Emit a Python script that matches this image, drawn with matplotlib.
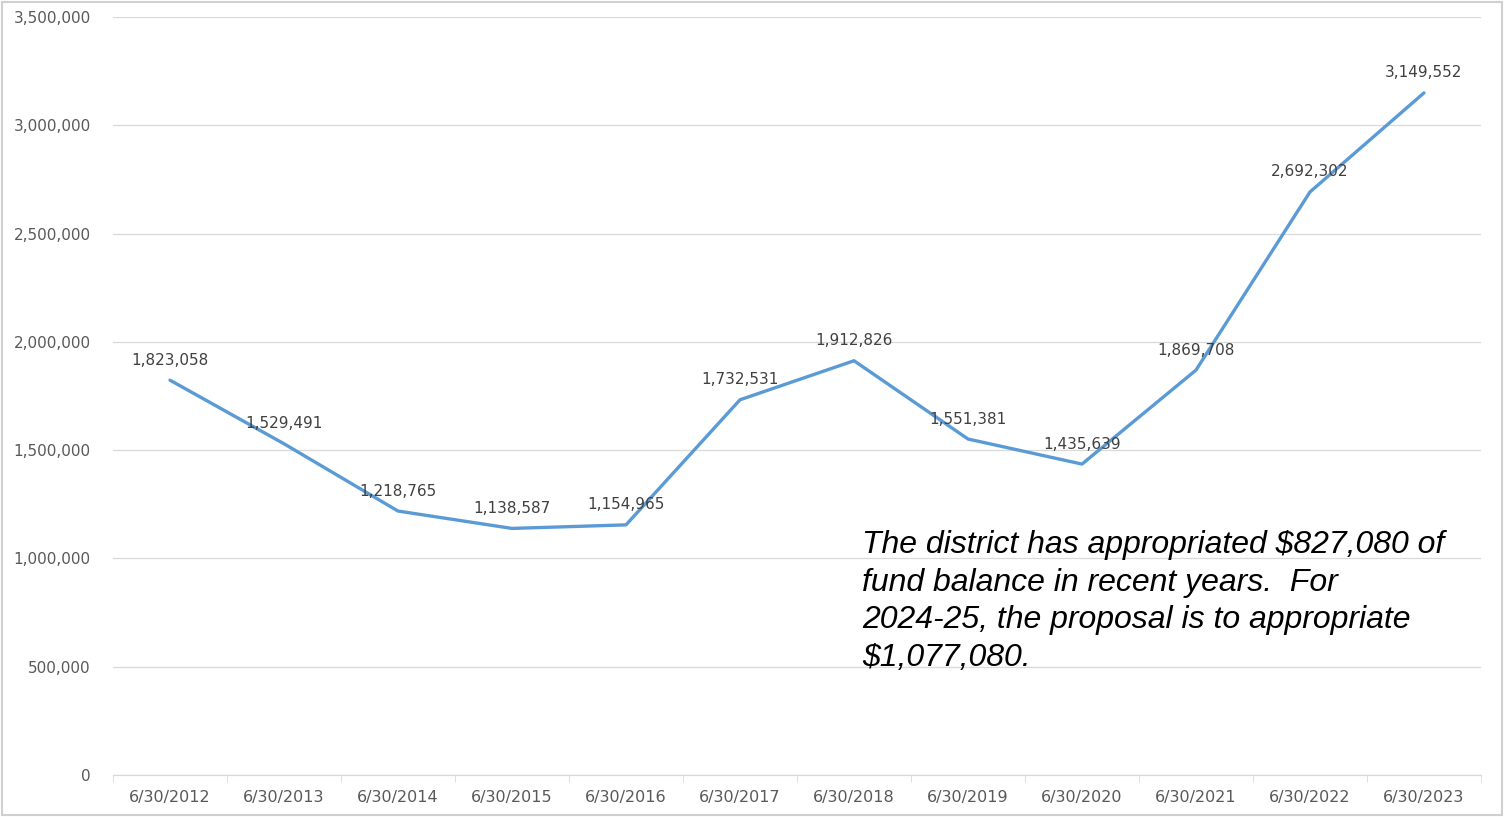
import matplotlib.pyplot as plt
from matplotlib.patches import Rectangle

plt.rcParams['font.family'] = ['DejaVu Sans']

dates = ["6/30/2012", "6/30/2013", "6/30/2014", "6/30/2015", "6/30/2016", "6/30/2017",
         "6/30/2018", "6/30/2019", "6/30/2020", "6/30/2021", "6/30/2022", "6/30/2023"]
balance = [1823058, 1529491, 1218765, 1138587, 1154965, 1732531,
           1912826, 1551381, 1435639, 1869708, 2692302, 3149552]
note = ("The district has appropriated $827,080 of\n"
        "fund balance in recent years.  For\n"
        "2024-25, the proposal is to appropriate\n"
        "$1,077,080.")

fig = plt.figure(figsize=(15.05, 8.17), dpi=100)
ax = fig.add_axes([113 / 1505, 42 / 817, 1368 / 1505, 758 / 817])

x = list(range(len(dates)))
ax.plot(x, balance, color="#5B9BD5", linewidth=2.4, solid_capstyle="round")

for xi, v in zip(x, balance):
    ax.annotate(f"{v:,}", (xi, v), xytext=(0, 9), textcoords="offset points",
                ha="center", va="bottom", fontsize=11, color="#404040")

ax.set_xlim(-0.5, len(dates) - 0.5)
ax.set_ylim(0, 3500000)
ax.set_yticks(range(0, 3500001, 500000))
ax.set_yticklabels([f"{t:,}" for t in range(0, 3500001, 500000)])
ax.set_xticks(x)
ax.set_xticklabels(dates)
ax.set_xticks([i - 0.5 for i in range(len(dates) + 1)], minor=True)

ax.grid(axis="y", color="#D9D9D9", linewidth=0.9)
ax.set_axisbelow(True)
for s in ["top", "right", "left"]:
    ax.spines[s].set_visible(False)
ax.spines["bottom"].set_color("#D9D9D9")
ax.spines["bottom"].set_linewidth(0.9)
ax.tick_params(axis="x", which="major", length=0, pad=11, labelsize=11.5, labelcolor="#595959")
ax.tick_params(axis="x", which="minor", length=5, color="#D9D9D9")
ax.tick_params(axis="y", length=0, pad=16, labelsize=11, labelcolor="#595959")

fig.text(862 / 1505, 1 - 530 / 817, note, fontsize=23, style="italic",
         family=["Liberation Sans", "DejaVu Sans"], color="black",
         va="top", ha="left", linespacing=1.33)

fig.patches.append(Rectangle((0.001, 0.002), 0.997, 0.996, transform=fig.transFigure,
                             fill=False, edgecolor="#D0D0D0", linewidth=1.5))

fig.savefig("out.png", dpi=100)
